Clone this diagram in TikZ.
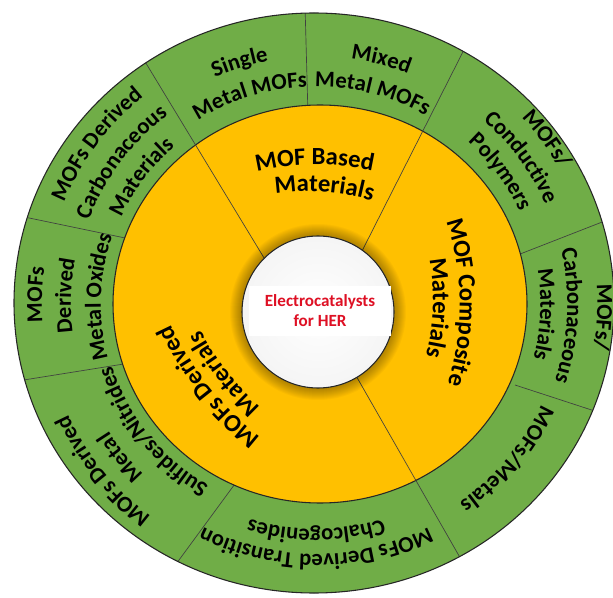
\documentclass[tikz,border=0pt]{standalone}
\usepackage{fontspec}
\setmainfont{Carlito}
\usepackage{tikz}
\usetikzlibrary{calc,decorations.text}
\definecolor{ringgreen}{RGB}{112,173,71}
\definecolor{ringgold}{RGB}{255,192,0}
\definecolor{hubred}{RGB}{222,16,36}
\tikzstyle{divider} = [draw=black!75, line width=0.5pt]
\tikzstyle{rim} = [draw=black!85, line width=0.8pt]
\newcommand{\greenfont}{\fontsize{17}{19}\selectfont\bfseries}
\newcommand{\goldfont}{\fontsize{18.5}{20}\selectfont\bfseries}
% text bent along an arc: angle, baseline radius, bend radius, font, text
\newcommand{\arclabel}[5]{%
  \path[decorate, decoration={text along path, text align=center, text={|#4|#5}}]
    ($(C)+(#1:{1.034*#2} and #2)+(#1:-#3)+(#1+70:#3)$)
    arc[start angle=#1+70, end angle=#1-70, radius=#3];
}

\begin{document}
\begin{tikzpicture}[x=0.75pt, y=0.75pt]
\useasboundingbox (0,0) rectangle (613,-598);
\coordinate (C) at (316,-304);
\coordinate (G) at (314,-303);
\coordinate (Y) at (320,-304);
\coordinate (W) at (318,-312);

% Outer ring
\fill[ringgreen] (G) ellipse [x radius=300, y radius=290];
\begin{scope}
\clip (G) ellipse [x radius=300, y radius=290];
\draw[divider] (305,-5) -- (308,-115);
\draw[divider] (615,-217) -- (515,-256);
\draw[divider] (515,-385) -- (610,-416);
\draw[divider] (168,-575) -- (240,-477);
\draw[divider] (5,-383) -- (130,-363);
\draw[divider] (10,-214) -- (130,-239);
\end{scope}

% Inner ring
\filldraw[rim, fill=ringgold] (Y) ellipse [x radius=207, y radius=199];
\begin{scope}
\clip (G) ellipse [x radius=300, y radius=290];
\draw[divider] (124,-27) -- (275,-276);
\draw[divider] (473,-32) -- (360,-255);
\draw[divider] (355,-374) -- (470,-575);
\end{scope}
\draw[rim] (G) ellipse [x radius=300, y radius=290];

% Hub
\foreach \i in {1,...,12}
  \fill[black, opacity=0.028] (W) circle (76+\i);
\shadedraw[rim, inner color=white, outer color=black!4] (W) circle (76);
\node[fill=white, text=hubred, align=center, font=\fontsize{12.8}{15}\selectfont\bfseries,
  minimum width=106pt, minimum height=37pt] (hub) at (320,-311) {Electrocatalysts\\for HER};

% Outer ring labels
\arclabel{107}{247}{247}{\greenfont}{Single}
\arclabel{107}{217}{217}{\greenfont}{Metal MOFs}
\arclabel{75.5}{247}{247}{\greenfont}{Mixed}
\arclabel{75.5}{217}{217}{\greenfont}{Metal MOFs}
\arclabel{36.5}{272}{272}{\greenfont}{MOFs/}
\arclabel{36.5}{244}{244}{\greenfont}{Conductive}
\arclabel{36.5}{218}{218}{\greenfont}{Polymers}
\arclabel{-2.7}{272}{272}{\greenfont}{MOFs/}
\arclabel{-2.7}{243}{243}{\greenfont}{Carbonaceous}
\arclabel{-2.7}{217}{217}{\greenfont}{Materials}
\arclabel{-40}{241}{241}{\greenfont}{MOFs/Metals}
\arclabel{-90}{250}{250}{\greenfont}{MOFs Derived Transition}
\arclabel{-90}{225}{225}{\greenfont}{Chalcogenides}
\arclabel{219}{265}{265}{\greenfont}{MOFs Derived}
\arclabel{219}{238}{238}{\greenfont}{Metal}
\arclabel{219}{208}{208}{\greenfont}{Sulfides/Nitrides}
\arclabel{178}{265}{265}{\greenfont}{MOFs}
\arclabel{178}{237}{237}{\greenfont}{Derived}
\arclabel{178}{208}{208}{\greenfont}{Metal Oxides}
\arclabel{143}{265}{265}{\greenfont}{MOFs Derived}
\arclabel{143}{236}{236}{\greenfont}{Carbonaceous}
\arclabel{143}{208}{208}{\greenfont}{Materials}

% Inner ring labels
\arclabel{90.5}{139}{260}{\goldfont}{MOF Based}
\arclabel{86}{112}{230}{\goldfont}{Materials}
\arclabel{0.5}{139}{260}{\goldfont}{MOF Composite}
\arclabel{-2}{113}{230}{\goldfont}{Materials}
\arclabel{218.5}{132}{300}{\goldfont}{MOFs Derived}
\arclabel{218}{109}{300}{\goldfont}{Materials}
\end{tikzpicture}
\end{document}
